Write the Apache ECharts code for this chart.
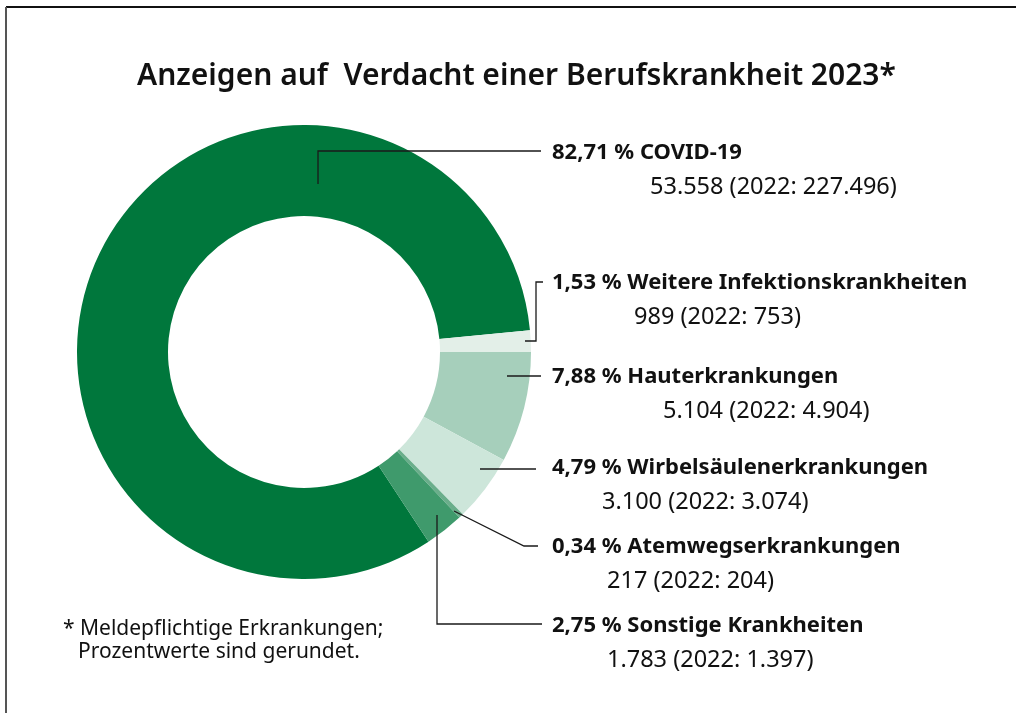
<!DOCTYPE html>
<html>
<head>
<meta charset="utf-8">
<script src="https://cdn.jsdelivr.net/npm/echarts@6/dist/echarts.min.js"></script>
<style>
html, body { margin: 0; padding: 0; background: #fff; }
#main { width: 1016px; height: 713px; }
</style>
</head>
<body>
<div id="main"></div>
<script>
var names = ['COVID-19', 'Weitere Infektionskrankheiten', 'Hauterkrankungen', 'Wirbelsäulenerkrankungen', 'Atemwegserkrankungen', 'Sonstige Krankheiten'];
var values2023 = [53558, 989, 5104, 3100, 217, 1783];
var values2022 = [227496, 753, 4904, 3074, 204, 1397];
var percents = ['82,71', '1,53', '7,88', '4,79', '0,34', '2,75'];
var colors = ['#00773c', '#e3efe8', '#a6cfbb', '#cde6da', '#6aae8b', '#3f9a6c'];

// Platzierung der Beschriftungen (Pixel)
var labelX = 552;
var labelMid = [153, 283, 377, 468, 547, 626];
var subIndent = [98, 82, 111, 50, 55, 55];
var leaderLines = [
    [[318, 184], [318, 151], [541, 151]],
    [[525, 341], [536, 341], [536, 282], [543, 282]],
    [[507, 376], [541, 376]],
    [[480, 469], [536, 469]],
    [[454, 511], [524, 546], [538, 546]],
    [[437, 515], [437, 624], [542, 624]]
];

function fmt(n) {
    return String(n).replace(/\B(?=(\d{3})+(?!\d))/g, '.');
}

var total = 0;
for (var i = 0; i < values2023.length; i++) total += values2023[i];
// Weitere Infektionskrankheiten endet genau bei 3 Uhr
var startAngle = 360 * (values2023[0] + values2023[1]) / total;

var pieData = [];
var rich = {
    a: { fontFamily: 'Noto Sans', fontWeight: 'bold', fontSize: 22, lineHeight: 34, color: '#111' }
};
for (var i = 0; i < names.length; i++) {
    pieData.push({ name: names[i], value: values2023[i], itemStyle: { color: colors[i] } });
    rich['b' + i] = { fontFamily: 'Noto Sans', fontSize: 23.5, lineHeight: 34, color: '#111', padding: [0, 0, 0, subIndent[i]] };
}

// Hinweislinien ueber dem Ring
var graphics = [
    { type: 'line', shape: { x1: 6, y1: 7, x2: 1016, y2: 7 }, style: { stroke: '#111', lineWidth: 2 } },
    { type: 'line', shape: { x1: 6, y1: 7, x2: 6, y2: 713 }, style: { stroke: '#555', lineWidth: 2 } },
    { type: 'text', left: 63, top: 619, style: { text: '* Meldepflichtige Erkrankungen;', font: '21px "Noto Sans"', fill: '#111' } },
    { type: 'text', left: 78, top: 642, style: { text: 'Prozentwerte sind gerundet.', font: '21px "Noto Sans"', fill: '#111' } }
];
for (var i = 0; i < leaderLines.length; i++) {
    graphics.push({
        type: 'polyline',
        z: 100,
        shape: { points: leaderLines[i] },
        style: { stroke: '#1a1a1a', lineWidth: 1.3, fill: null }
    });
}

var dom = document.getElementById('main');
var myChart = echarts.init(dom);

var option = {
    backgroundColor: '#fff',
    animation: false,
    title: {
        text: 'Anzeigen auf  Verdacht einer Berufskrankheit 2023*',
        left: 137,
        top: 61,
        padding: 0,
        textStyle: { fontFamily: 'Noto Sans', fontSize: 30, fontWeight: 600, color: '#111' }
    },
    graphic: graphics,
    series: [
        {
            type: 'pie',
            center: [304, 352],
            radius: [136, 227],
            startAngle: startAngle,
            clockwise: true,
            avoidLabelOverlap: false,
            silent: true,
            emphasis: { disabled: true },
            itemStyle: { borderWidth: 0 },
            data: pieData,
            label: {
                show: true,
                position: 'outside',
                formatter: function (p) {
                    var i = p.dataIndex;
                    return '{a|' + percents[i] + ' % ' + names[i] + '}\n{b' + i + '|' + fmt(values2023[i]) + ' (2022: ' + fmt(values2022[i]) + ')}';
                },
                rich: rich
            },
            labelLine: { show: false },
            labelLayout: function (params) {
                var i = params.dataIndex;
                return {
                    x: labelX,
                    y: labelMid[i] - 17,
                    align: 'left',
                    verticalAlign: 'top'
                };
            }
        }
    ]
};
myChart.setOption(option);
</script>
</body>
</html>
